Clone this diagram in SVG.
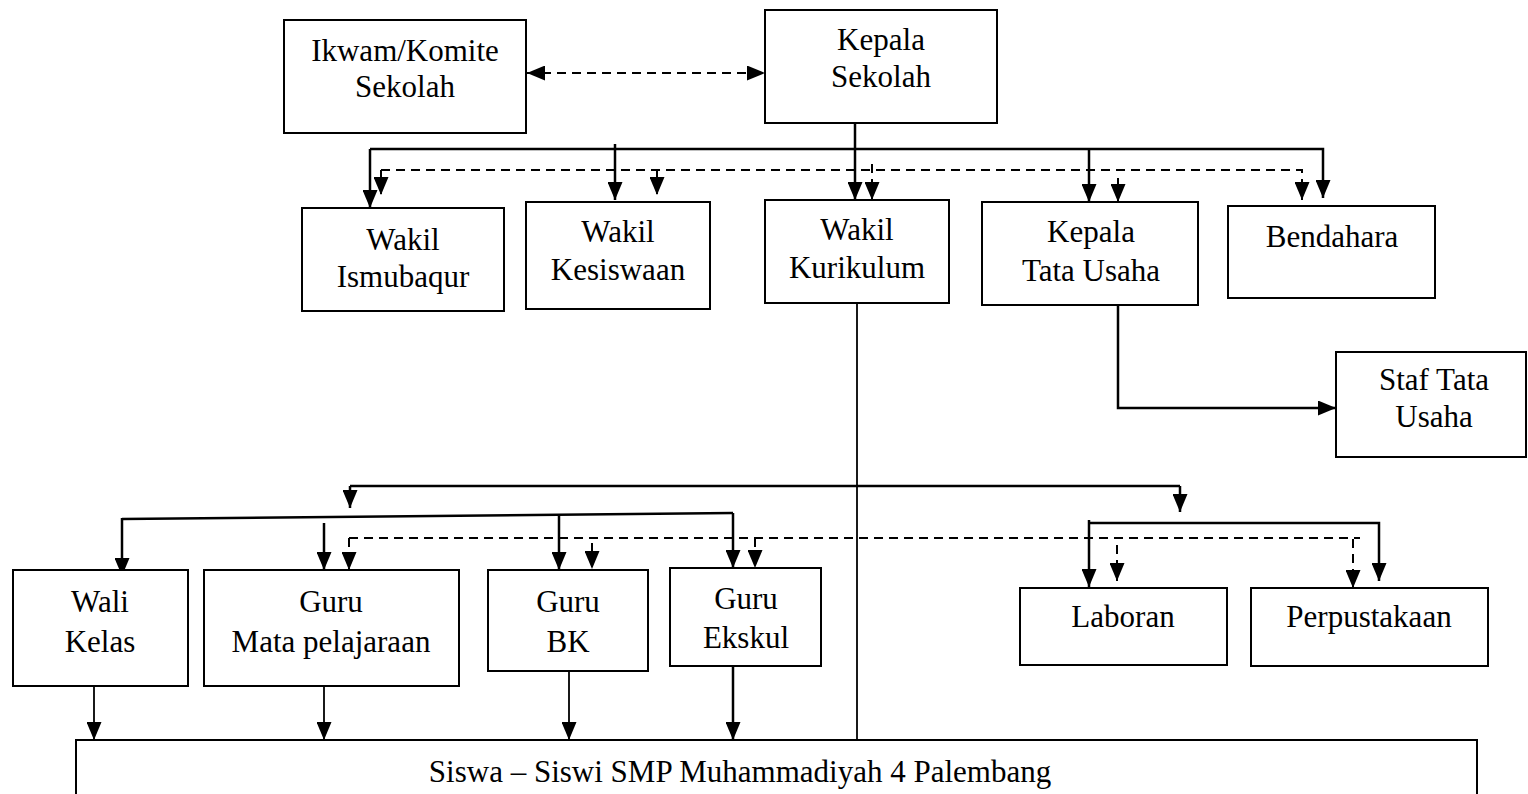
<svg xmlns="http://www.w3.org/2000/svg" width="1528" height="794" viewBox="0 0 1528 794">
<style>
.box{fill:#fff;stroke:#000;stroke-width:2}
text{font-family:"Liberation Serif","Times New Roman",serif;font-size:31px;fill:#000;text-anchor:middle}
.s{fill:none;stroke:#000;stroke-width:2.5}
.t{fill:none;stroke:#000;stroke-width:1.8}
.d{fill:none;stroke:#000;stroke-width:2;stroke-dasharray:9,6}
.a{marker-end:url(#ah)}
</style>
<defs>
<marker id="ah" viewBox="0 0 18 15" refX="18" refY="7.5" markerWidth="18" markerHeight="15" markerUnits="userSpaceOnUse" orient="auto-start-reverse">
<path d="M0,0 L18,7.5 L0,15 z" fill="#000"/>
</marker>
</defs>
<rect width="1528" height="794" fill="#fff"/>
<g id="connectors">
<line class="d" x1="527" y1="73" x2="765" y2="73" marker-start="url(#ah)" marker-end="url(#ah)"/>
<path class="s a" d="M855,123 V200"/>
<path class="s a" d="M370,149 H1323 V198"/>
<path class="s a" d="M370,149 V208"/>
<path class="s a" d="M615,144 V200"/>
<path class="s a" d="M1089,149 V202"/>
<path class="d a" d="M381,170 H1302 V200"/>
<path class="d a" d="M381,170 V195"/>
<path class="d a" d="M657,170 V195"/>
<path class="d a" d="M872,164 V200"/>
<path class="d a" d="M1118,178 V202"/>
<path class="t" d="M857,303 V740"/>
<path class="s a" d="M1118,305 V408 H1336"/>
<path class="s" d="M350,486 H1180"/>
<path class="s a" d="M350,486 V508"/>
<path class="s a" d="M1180,486 V512"/>
<path class="s" d="M122,519 L733,513"/>
<path class="s a" d="M122,518 V576"/>
<path class="s a" d="M733,513 V568"/>
<path class="s a" d="M559,515 V570"/>
<path class="s a" d="M324,523 V570"/>
<path class="d" d="M349,538 H1360"/>
<path class="d a" d="M349,538 V570"/>
<path class="d a" d="M592,543 V569"/>
<path class="d a" d="M755,538 V568"/>
<path class="d a" d="M1117,545 V581"/>
<path class="d a" d="M1353,539 V588"/>
<path class="s a" d="M1089,520 V587"/>
<path class="s a" d="M1089,523 H1379 V581"/>
<path class="t a" d="M94,686 V740"/>
<path class="t a" d="M324,686 V740"/>
<path class="t a" d="M569,671 V740"/>
<path class="s a" d="M733,666 V740"/>
</g>
<g id="ikwam"><rect class="box" x="284" y="20" width="242" height="113"/><text x="405" y="61">Ikwam/Komite</text><text x="405" y="97">Sekolah</text></g>
<g id="kepala-sekolah"><rect class="box" x="765" y="10" width="232" height="113"/><text x="881" y="50">Kepala</text><text x="881" y="87">Sekolah</text></g>
<g id="wakil-ismubaqur"><rect class="box" x="302" y="208" width="202" height="103"/><text x="403" y="250">Wakil</text><text x="403" y="287">Ismubaqur</text></g>
<g id="wakil-kesiswaan"><rect class="box" x="526" y="202" width="184" height="107"/><text x="618" y="242">Wakil</text><text x="618" y="280">Kesiswaan</text></g>
<g id="wakil-kurikulum"><rect class="box" x="765" y="200" width="184" height="103"/><text x="857" y="240">Wakil</text><text x="857" y="278">Kurikulum</text></g>
<g id="kepala-tu"><rect class="box" x="982" y="202" width="216" height="103"/><text x="1091" y="242">Kepala</text><text x="1091" y="281">Tata Usaha</text></g>
<g id="bendahara"><rect class="box" x="1228" y="206" width="207" height="92"/><text x="1332" y="247">Bendahara</text></g>
<g id="staf-tu"><rect class="box" x="1336" y="352" width="190" height="105"/><text x="1434" y="390">Staf Tata</text><text x="1434" y="427">Usaha</text></g>
<g id="wali-kelas"><rect class="box" x="13" y="570" width="175" height="116"/><text x="100" y="612">Wali</text><text x="100" y="652">Kelas</text></g>
<g id="guru-mapel"><rect class="box" x="204" y="570" width="255" height="116"/><text x="331" y="612">Guru</text><text x="331" y="652">Mata pelajaraan</text></g>
<g id="guru-bk"><rect class="box" x="488" y="570" width="160" height="101"/><text x="568" y="612">Guru</text><text x="568" y="652">BK</text></g>
<g id="guru-ekskul"><rect class="box" x="670" y="568" width="151" height="98"/><text x="746" y="609">Guru</text><text x="746" y="648">Ekskul</text></g>
<g id="laboran"><rect class="box" x="1020" y="588" width="207" height="77"/><text x="1123" y="627">Laboran</text></g>
<g id="perpustakaan"><rect class="box" x="1251" y="588" width="237" height="78"/><text x="1369" y="627">Perpustakaan</text></g>
<g id="siswa"><rect class="box" x="76" y="740" width="1401" height="70"/><text x="740" y="782">Siswa – Siswi SMP Muhammadiyah 4 Palembang</text></g>
</svg>
